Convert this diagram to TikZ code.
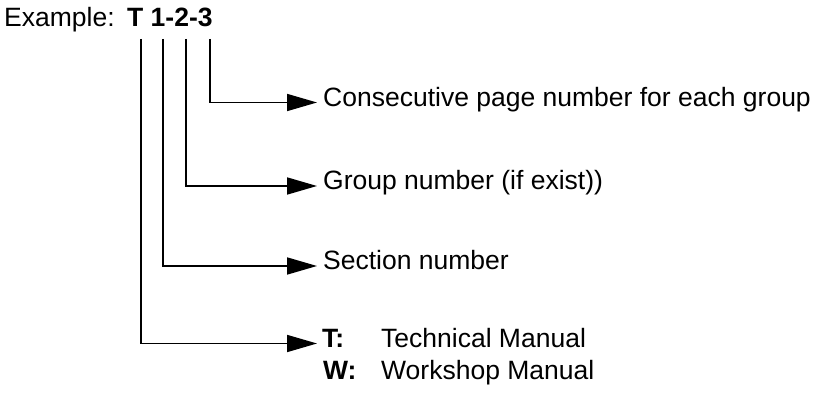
\documentclass[tikz,border=0pt]{standalone}
\usepackage{fontspec}
\setmainfont{Liberation Sans}
\usetikzlibrary{arrows.meta}
\begin{document}
\begin{tikzpicture}[x=1pt,y=1pt,
  lbl/.style={anchor=base west,inner sep=0pt,font=\fontsize{26.5}{31}\selectfont},
  key/.style={lbl,font=\fontsize{26.5}{31}\selectfont\bfseries},
  conn/.style={line width=1.7pt,-{Triangle[length=30pt,width=17pt]}}]
\useasboundingbox (0,0) rectangle (815,396);
\node[lbl] (ex) at (4,369) {Example:};
\node[key] (code) at (127,369) {T 1-2-3};
\coordinate (t1) at (141,357);
\coordinate (t2) at (163,357);
\coordinate (t3) at (186,357);
\coordinate (t4) at (210,357);
\coordinate (e1) at (317,293.5);
\coordinate (e2) at (317,210);
\coordinate (e3) at (317,130);
\coordinate (e4) at (317,52.5);
\node[lbl] (l1) at (323,289) {Consecutive page number for each group};
\node[lbl] (l2) at (323,206) {Group number (if exist))};
\node[lbl] (l3) at (323,126) {Section number};
\node[key] (k1) at (322,48.5) {T:};
\node[lbl] (v1) at (381,48.5) {Technical Manual};
\node[key] (k2) at (323,16) {W:};
\node[lbl] (v2) at (381,16) {Workshop Manual};
\draw[conn] (t4) |- (e1);
\draw[conn] (t3) |- (e2);
\draw[conn] (t2) |- (e3);
\draw[conn] (t1) |- (e4);
\end{tikzpicture}
\end{document}
